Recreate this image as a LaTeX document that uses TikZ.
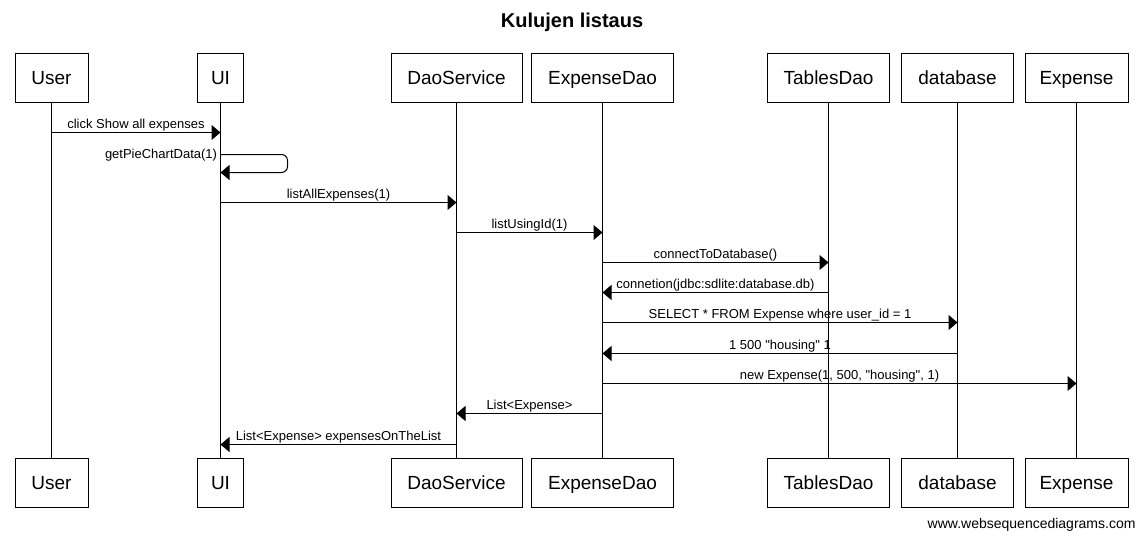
\documentclass[tikz,border=0pt]{standalone}
\usepackage{fontspec}
\setmainfont{Liberation Sans}
\usetikzlibrary{arrows.meta}

\begin{document}
\begin{tikzpicture}[x=1pt, y=-1pt, line width=1pt, >={Triangle[length=9pt, width=15pt]},
    actor/.style={draw, minimum height=49pt, inner sep=0pt, text height=15pt, text depth=2pt,
        font=\fontsize{19}{21}\selectfont},
    msg/.style={->, font=\fontsize{13}{15}\selectfont},
    lbl/.style={above, inner sep=0.5pt}]

    \useasboundingbox (0,0) rectangle (1144,541);

    % Title
    \node[font=\bfseries\fontsize{20}{22}\selectfont] (title) at (572,22) {Kulujen listaus};

    % Actors, top and bottom
    \foreach \n/\x/\w/\t in {user/51.5/73/User, ui/220.5/46/UI, dao/456.5/131/DaoService,
        expdao/602.5/142/ExpenseDao, tables/828.5/122/TablesDao, db/957.5/112/database,
        expense/1076.5/103/Expense} {
        \node[actor, minimum width=\w pt] (\n T) at (\x,77.5) {\t};
        \node[actor, minimum width=\w pt] (\n B) at (\x,482.5) {\t};
        \draw (\n T) -- (\n B);
    }

    % Messages
    \draw[msg] (userT.south |- 0,132.5) -- (uiT.south |- 0,132.5) node[lbl, midway] {click Show all expenses};
    \draw[msg, rounded corners=6pt] (uiT.south |- 0,154.5) -- (287.5,154.5) -- (287.5,172.5) -- (uiT.south |- 0,172.5);
    \node[left, inner sep=3pt, font=\fontsize{13}{15}\selectfont] (self) at (uiT.south |- 0,155) {getPieChartData(1)};
    \draw[msg] (uiT.south |- 0,202.5) -- (daoT.south |- 0,202.5) node[lbl, midway] {listAllExpenses(1)};
    \draw[msg] (daoT.south |- 0,232.5) -- (expdaoT.south |- 0,232.5) node[lbl, midway] {listUsingId(1)};
    \draw[msg] (expdaoT.south |- 0,262.5) -- (tablesT.south |- 0,262.5) node[lbl, midway] {connectToDatabase()};
    \draw[msg] (tablesT.south |- 0,292.5) -- (expdaoT.south |- 0,292.5) node[lbl, midway] {connetion(jdbc:sdlite:database.db)};
    \draw[msg] (expdaoT.south |- 0,322.5) -- (dbT.south |- 0,322.5) node[lbl, midway] {SELECT * FROM Expense where user\_id = 1};
    \draw[msg] (dbT.south |- 0,353.5) -- (expdaoT.south |- 0,353.5) node[lbl, midway] {1 500 \textquotedbl housing\textquotedbl{} 1};
    \draw[msg] (expdaoT.south |- 0,383.5) -- (expenseT.south |- 0,383.5) node[lbl, midway] {new Expense(1, 500, \textquotedbl housing\textquotedbl, 1)};
    \draw[msg] (expdaoT.south |- 0,413.5) -- (daoT.south |- 0,413.5) node[lbl, midway] {List<Expense>};
    \draw[msg] (daoT.south |- 0,444.5) -- (uiT.south |- 0,444.5) node[lbl, midway] {List<Expense> expensesOnTheList};

    % Footer
    \node[anchor=east, inner sep=0pt, font=\fontsize{14}{16}\selectfont] (footer) at (1136,525) {www.websequencediagrams.com};

\end{tikzpicture}
\end{document}
